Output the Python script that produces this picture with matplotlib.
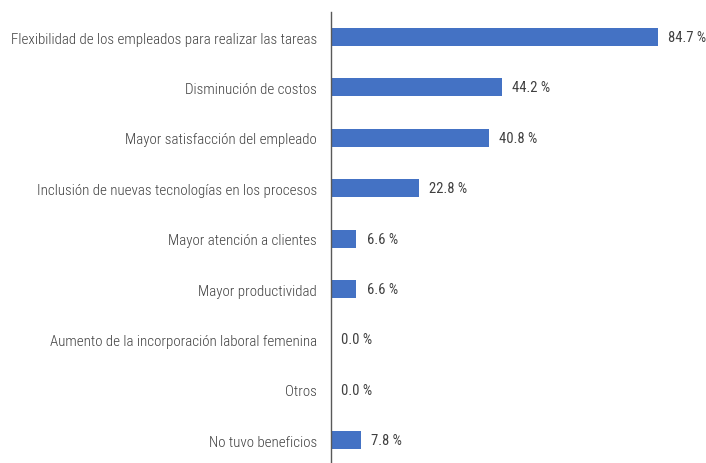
import matplotlib
matplotlib.use("Agg")
import matplotlib.pyplot as plt
from matplotlib import font_manager

categories = [
    "Flexibilidad de los empleados para realizar las tareas",
    "Disminución de costos",
    "Mayor satisfacción del empleado",
    "Inclusión de nuevas tecnologías en los procesos",
    "Mayor atención a clientes",
    "Mayor productividad",
    "Aumento de la incorporación laboral femenina",
    "Otros",
    "No tuvo beneficios",
]
values = [84.7, 44.2, 40.8, 22.8, 6.6, 6.6, 0.0, 0.0, 7.8]

names = {f.name for f in font_manager.fontManager.ttflist}
fam = "Roboto Condensed" if "Roboto Condensed" in names else "Roboto"

fig = plt.figure(figsize=(7.06, 4.64), dpi=100)
ax = fig.add_axes([331/706, -2.5/464, 375/706, (464 + 2.5 - 12.8)/464])

n = len(categories)
ypos = list(range(n))
ax.barh(ypos, values, height=0.36, color="#4472C4")
ax.set_ylim(n - 0.5, -0.5)
ax.set_xlim(0, 97.1)
ax.set_yticks(ypos)
ax.set_yticklabels(categories, fontsize=10.8, color="#404040", family=fam,
                   fontweight="light")
ax.tick_params(axis="y", length=0, pad=10)
ax.set_xticks([])
for s in ["top", "right", "bottom"]:
    ax.spines[s].set_visible(False)
ax.spines["left"].set_color("#595959")
ax.spines["left"].set_linewidth(1.0)

for y, v in zip(ypos, values):
    ax.text(v + 2.6, y, f"{v:.1f} %", va="center", ha="left", fontsize=10.5,
            color="#404040", family=fam)

fig.savefig("out.png", dpi=100)
